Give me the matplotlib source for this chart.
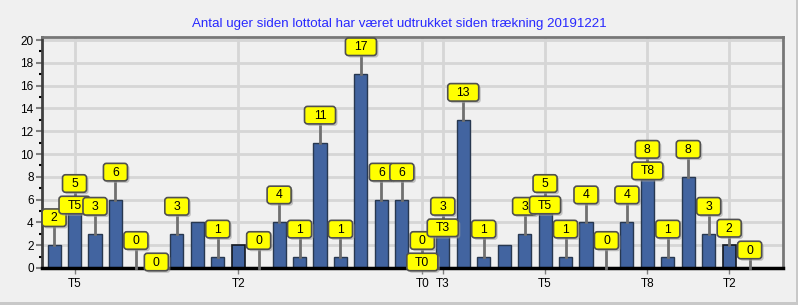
import matplotlib
matplotlib.use("Agg")
import matplotlib.pyplot as plt
import matplotlib.transforms as mtransforms
from matplotlib.patches import FancyBboxPatch, Rectangle
from matplotlib.lines import Line2D

plt.rcParams['font.family'] = ['Liberation Sans', 'DejaVu Sans']

# weeks since each lotto number (1..36) was drawn
numbers = list(range(1, 37))
weeks = [2, 5, 3, 6, 0, 0, 3, 4, 1, 2, 0, 4, 1, 11, 1, 17, 6, 6,
         0, 3, 13, 1, 2, 3, 5, 1, 4, 0, 4, 8, 1, 8, 3, 2, 0, 0]
# tick labels on the x axis (number -> label)
tick_numbers = [2, 10, 19, 20, 25, 30, 34]
tick_labels = ["T5", "T2", "T0", "T3", "T5", "T8", "T2"]
# numbers that carry an extra "T" box at the bar top
t_numbers = [2, 19, 20, 25, 30]
t_texts = ["T5", "T0", "T3", "T5", "T8"]
# numbers without a value box
no_label = [8, 10, 23, 36]
title = "Antal uger siden lottotal har været udtrukket siden trækning 20191221"

BG = "#f0f0f0"
BAR = "#4264a0"
GRID = "#d6d6d6"

fig = plt.figure(figsize=(7.98, 3.05), dpi=100, facecolor=BG)
ax = fig.add_axes([42 / 798, 37 / 305, 741 / 798, 231 / 305])
ax.set_facecolor(BG)

xs = list(range(len(numbers)))
edge = ["#141820" if n in (10, 34) else "#283850" for n in numbers]
lw = [1.2 if n in (10, 34) else 1.0 for n in numbers]
ax.bar(xs, weeks, width=0.64, color=BAR, edgecolor=edge, linewidth=lw, zorder=3)

ax.set_xlim(-0.59, len(numbers) - 1 + 0.63)
ax.set_ylim(0, 20.27)
ax.set_yticks(range(0, 21, 2))
ax.set_yticks(range(1, 21, 2), minor=True)
ax.set_xticks([numbers.index(n) for n in tick_numbers])
ax.set_xticklabels(tick_labels)
ax.tick_params(axis='both', labelsize=8.5, colors='#808080', labelcolor='black')
ax.tick_params(axis='y', which='major', length=4, width=1.5, pad=2)
ax.tick_params(axis='y', which='minor', length=2.5, width=1.5)
ax.tick_params(axis='x', length=4, width=1, pad=3)
ax.grid(True, color=GRID, linewidth=2, zorder=0)
ax.set_axisbelow(True)

ax.spines['left'].set_color('#404040')
ax.spines['left'].set_linewidth(2)
ax.spines['bottom'].set_color('black')
ax.spines['bottom'].set_linewidth(2.5)
ax.spines['bottom'].set_zorder(5)
ax.spines['top'].set_color('#777777')
ax.spines['top'].set_linewidth(2)
ax.spines['right'].set_color('#777777')
ax.spines['right'].set_linewidth(2)


# box in inches around a data point, offset dy inches upward
def label_box(x, v, text, dy, z, line=True):
    trans = fig.dpi_scale_trans + mtransforms.ScaledTranslation(x, v, ax.transData)
    w = 0.24 if len(text) == 1 else 0.31
    h = 0.175
    if line:
        ax.add_line(Line2D([0, 0], [0, dy - h / 2], transform=trans, color='#707070',
                           linewidth=2, zorder=z, clip_on=False))
    shadow = FancyBboxPatch((-w / 2 + 0.02, dy - h / 2 - 0.02), w, h,
                            boxstyle="round,pad=0,rounding_size=0.03",
                            transform=trans, fc='#a0a0a0', ec='none', alpha=0.6,
                            zorder=z + 0.1, clip_on=False)
    box = FancyBboxPatch((-w / 2, dy - h / 2), w, h,
                         boxstyle="round,pad=0,rounding_size=0.03",
                         transform=trans, fc='#ffff00', ec='#505050', linewidth=1.2,
                         zorder=z + 0.2, clip_on=False)
    ax.add_patch(shadow)
    ax.add_patch(box)
    ax.text(0, dy - 0.005, text, transform=trans, ha='center', va='center',
            fontsize=8.8, color='black', zorder=z + 0.3, clip_on=False)


offsets = {6: 0.06, 34: 0.17, 35: 0.18}
for i, (n, v) in enumerate(zip(numbers, weeks)):
    z = 10 + i
    if n in t_numbers:
        label_box(i, v, t_texts[t_numbers.index(n)], 0.06, z + 0.5, line=False)
    if n in no_label:
        continue
    dy = offsets.get(n, 0.275)
    label_box(i, v, str(v), dy, z, line=dy > 0.1)

fig.text(0.5, 1 - 24 / 305, title, ha='center', va='center', fontsize=9.6, color='#2828ff')

# outer panel edges
fig.patches.append(Rectangle((796 / 798, 0), 2 / 798, 1, transform=fig.transFigure,
                             fc='#c8c8c8', ec='none'))
fig.patches.append(Rectangle((0, 0), 1, 3 / 305, transform=fig.transFigure,
                             fc='#c8c8c8', ec='none'))

fig.savefig("out.png", dpi=100, facecolor=BG)
